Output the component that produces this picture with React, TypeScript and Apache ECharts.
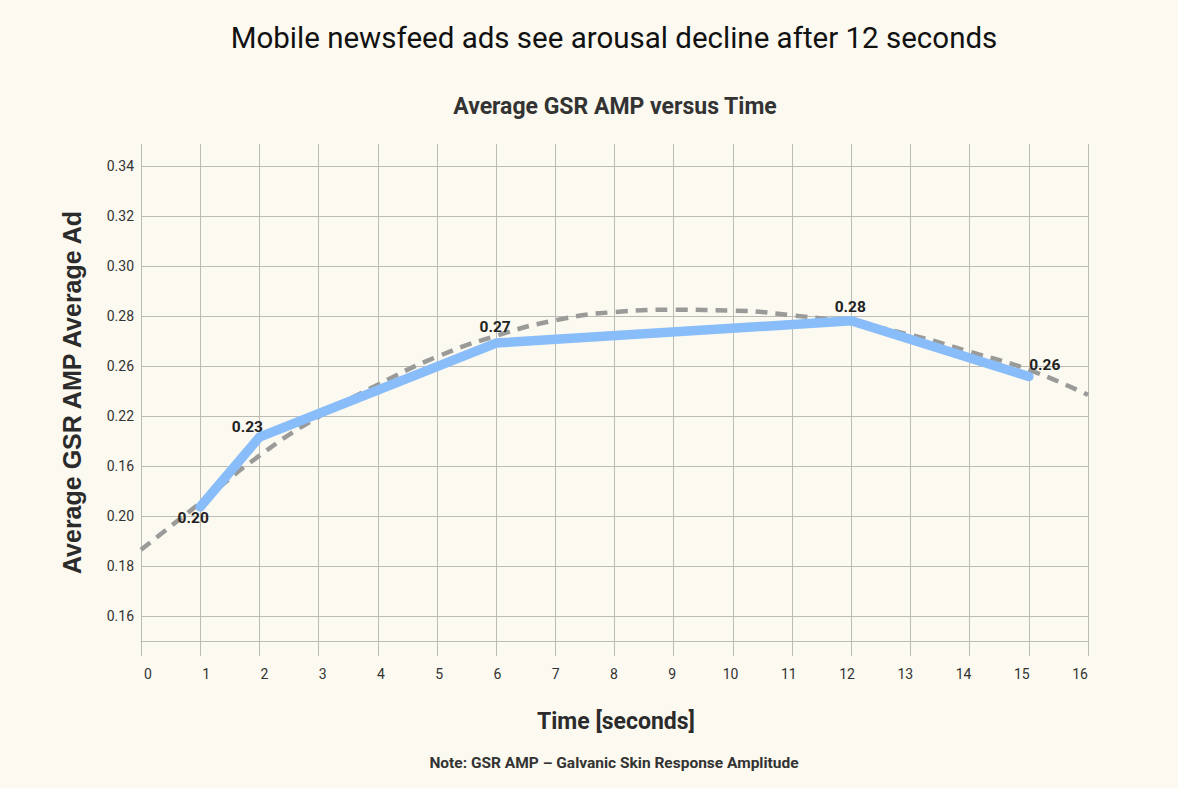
import React, { useEffect, useRef } from "react";
import * as echarts from "echarts";

// ---- data ----
const timeSeconds = [1, 2, 6, 12, 15];
const gsrAmp = [0.2037, 0.2316, 0.2693, 0.2782, 0.2559];

const trendTime = [0, 1, 2, 3, 4, 5, 6, 7, 8, 9, 10, 11, 12, 13, 14, 15, 16];
const trendAmp = [
  0.1865, 0.2053, 0.2242, 0.2398, 0.2526, 0.2638, 0.2722, 0.2784, 0.2817,
  0.2826, 0.2823, 0.2804, 0.2774, 0.2726, 0.2658, 0.2586, 0.2485,
];

const xTickValues = [0, 1, 2, 3, 4, 5, 6, 7, 8, 9, 10, 11, 12, 13, 14, 15, 16];
const yTickValues = [0.16, 0.18, 0.2, 0.22, 0.24, 0.26, 0.28, 0.3, 0.32, 0.34];
const yTickLabels = ["0.16", "0.18", "0.20", "0.16", "0.22", "0.26", "0.28", "0.30", "0.32", "0.34"];

const titleText = "Mobile newsfeed ads see arousal decline after 12 seconds";
const subtitleText = "Average GSR AMP versus Time";
const xAxisTitle = "Time [seconds]";
const yAxisTitle = "Average GSR AMP Average Ad";
const noteText = "Note: GSR AMP \u2013 Galvanic Skin Response Amplitude";

// ---- layout / style (not data) ----
const labelOffsets: [number, number][] = [
  [-7, 11],
  [-12, -10],
  [-1, -16],
  [-1, -14],
  [16, -12],
];

const BG = "#fbf9f0";
const GRID = "#bcbcb6";
const TEXT = "#2b2b2b";

export default function App() {
  const ref = useRef<HTMLDivElement>(null);

  useEffect(() => {
    if (!ref.current) return;
    const chart = echarts.init(ref.current, null, { renderer: "svg" });

    const option: any = {
      animation: false,
      backgroundColor: BG,
      grid: { left: 141, top: 144, width: 947, height: 497, containLabel: false },
      graphic: [
        {
          type: "text",
          x: 614,
          y: 38,
          style: {
            text: titleText,
            font: '400 29.5px Roboto',
            fill: "#111111",
            textAlign: "center",
            textVerticalAlign: "middle",
          },
        },
        {
          type: "text",
          x: 615,
          y: 106,
          style: {
            text: subtitleText,
            font: '700 23px Roboto',
            fill: "#333333",
            textAlign: "center",
            textVerticalAlign: "middle",
          },
        },
        {
          type: "text",
          x: 616,
          y: 721,
          style: {
            text: xAxisTitle,
            font: '700 23px Roboto',
            fill: TEXT,
            textAlign: "center",
            textVerticalAlign: "middle",
          },
        },
        {
          type: "text",
          x: 614,
          y: 763,
          style: {
            text: noteText,
            font: '700 15.5px Roboto',
            fill: "#333333",
            textAlign: "center",
            textVerticalAlign: "middle",
          },
        },
      ],
      xAxis: [
        {
          type: "value",
          min: 0,
          max: 16,
          interval: 1,
          axisLine: { show: true, lineStyle: { color: GRID, width: 1 } },
          axisTick: { show: true, length: 15, lineStyle: { color: GRID, width: 1 } },
          axisLabel: { show: false },
          splitLine: { show: true, lineStyle: { color: GRID, width: 1 } },
        },
        {
          type: "value",
          position: "bottom",
          min: -0.1202,
          max: 16.137,
          axisLine: { show: false },
          axisTick: { show: false },
          splitLine: { show: false },
          axisLabel: {
            show: true,
            customValues: xTickValues,
            margin: 26,
            color: "#333333",
            fontFamily: "Roboto",
            fontSize: 14,
            formatter: (v: number) => String(Math.round(v)),
          },
        },
      ],
      yAxis: {
        type: "value",
        min: 0.15,
        max: 0.349,
        name: yAxisTitle,
        nameLocation: "middle",
        nameRotate: 90,
        nameGap: 57,
        nameTextStyle: {
          fontFamily: "Liberation Sans",
          fontWeight: "bold",
          fontSize: 25,
          color: TEXT,
        },
        axisLine: { show: false },
        axisTick: { show: false, customValues: yTickValues },
        axisLabel: {
          customValues: yTickValues,
          margin: 7,
          color: "#333333",
          fontFamily: "Roboto",
          fontSize: 14,
          formatter: (v: number) => {
            let best = 0;
            for (let i = 0; i < yTickValues.length; i++) {
              if (Math.abs(yTickValues[i] - v) < Math.abs(yTickValues[best] - v)) best = i;
            }
            return yTickLabels[best];
          },
        },
        splitLine: { show: true, lineStyle: { color: GRID, width: 1 } },
      },
      series: [
        {
          name: "Trend",
          type: "line",
          xAxisIndex: 0,
          data: trendTime.map((t, i) => [t, trendAmp[i]]),
          smooth: true,
          showSymbol: false,
          symbol: "none",
          lineStyle: { color: "#9a9a98", width: 4.5, type: [12, 8], cap: "butt" },
          z: 2,
          silent: true,
        },
        {
          name: "Average GSR AMP",
          type: "line",
          xAxisIndex: 0,
          data: timeSeconds.map((t, i) => ({
            value: [t, gsrAmp[i]],
            label: { offset: labelOffsets[i] },
          })),
          symbol: "circle",
          symbolSize: 1,
          showSymbol: true,
          itemStyle: { color: "rgba(0,0,0,0)" },
          lineStyle: { color: "#89bdf9", width: 9.5, cap: "round", join: "round" },
          label: {
            show: true,
            position: "inside",
            color: "#222222",
            fontFamily: "Roboto",
            fontWeight: "bold",
            fontSize: 15.5,
            formatter: (p: any) => p.value[1].toFixed(2),
          },
          z: 3,
        },
      ],
    };

    chart.setOption(option);
    return () => chart.dispose();
  }, []);

  return (
    <div
      ref={ref}
      style={{ position: "fixed", left: 0, top: 0, width: 1178, height: 788, background: BG }}
    />
  );
}
